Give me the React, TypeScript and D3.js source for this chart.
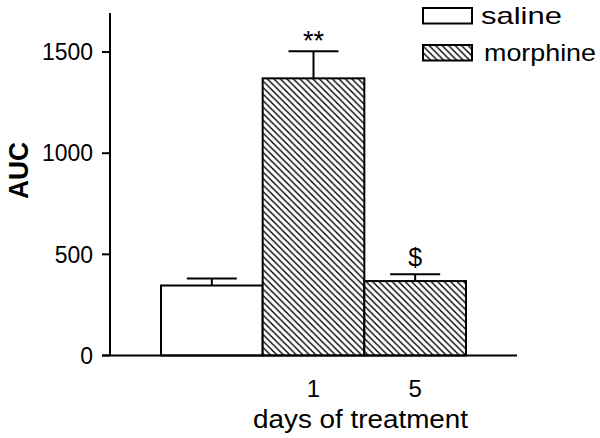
import React from "react";
import * as d3 from "d3";

const groups = ["saline", "morphine-1", "morphine-5"];
const groupSeries = ["saline", "morphine", "morphine"];
const means = [346, 1370, 368];
const errors = [35, 134, 34];
const xTickLabels = ["", "1", "5"];
const annotations = ["", "**", "$"];
const yTicks = [0, 500, 1000, 1500];
const legendLabels = ["saline", "morphine"];
const yLabel = "AUC";
const xLabel = "days of treatment";

const FONT = "'Liberation Sans', Arial, Helvetica, sans-serif";

export default function App() {
  const y = d3.scaleLinear().domain([0, 1693]).range([355.5, 13]);
  const x = d3.scaleBand<string>().domain(groups).range([161, 466]).padding(0);
  const axisX = 110;
  const capHalf = 25;

  const T = (props: any) => {
    const { x: tx, y: ty, children, anchor = "middle", size = 21, weight = "normal", rotate = 0, len } = props;
    return (
      <text
        transform={`translate(${tx},${ty}) rotate(${rotate})`}
        textAnchor={anchor}
        fontFamily={FONT}
        fontSize={size}
        fontWeight={weight}
        fill="#000"
        textLength={len}
        lengthAdjust={len ? "spacingAndGlyphs" : undefined}
      >
        {children}
      </text>
    );
  };

  return (
    <svg width={600} height={438} style={{ position: "absolute", left: 0, top: 0, background: "#fff" }}>
      <defs>
        <pattern id="hatch" patternUnits="userSpaceOnUse" width={6.5} height={6.5}>
          <rect width={6.5} height={6.5} fill="#fff" />
          <path d="M-1,-1 L7.5,7.5 M-1,5.5 L1,7.5 M5.5,-1 L7.5,1" stroke="#000" strokeWidth={1.4} />
        </pattern>
      </defs>
      <rect width={600} height={438} fill="#fff" />

      {groups.map((g, i) => (
        <rect
          key={g}
          x={x(g)!}
          y={y(means[i])}
          width={x.bandwidth()}
          height={y(0) - y(means[i])}
          fill={groupSeries[i] === "saline" ? "#fff" : "url(#hatch)"}
          stroke="#000"
          strokeWidth={2}
        />
      ))}

      {groups.map((g, i) => {
        const cx = x(g)! + x.bandwidth() / 2;
        return (
          <g key={"e" + g} stroke="#000" strokeWidth={2}>
            <line x1={cx} x2={cx} y1={y(means[i])} y2={y(means[i] + errors[i])} />
            <line x1={cx - capHalf} x2={cx + capHalf} y1={y(means[i] + errors[i])} y2={y(means[i] + errors[i])} />
          </g>
        );
      })}

      {groups.map((g, i) =>
        annotations[i] ? (
          <T
            key={"a" + g}
            x={x(g)! + x.bandwidth() / 2}
            y={y(means[i] + errors[i]) + (annotations[i] === "$" ? -8 : -1)}
            size={annotations[i] === "$" ? 25 : 27}
          >
            {annotations[i]}
          </T>
        ) : null
      )}

      <line x1={axisX} x2={axisX} y1={y.range()[1]} y2={y(0)} stroke="#000" strokeWidth={2} />
      {yTicks.map((t) => (
        <g key={t}>
          <line x1={axisX - 8} x2={axisX} y1={y(t)} y2={y(t)} stroke="#000" strokeWidth={2} />
          <T x={93} y={y(t) + 8.3} anchor="end" size={23} len={String(t).length * 12.75}>
            {t}
          </T>
        </g>
      ))}
      <line x1={axisX - 8} x2={517} y1={y(0)} y2={y(0)} stroke="#000" strokeWidth={2} />

      {groups.map((g, i) =>
        xTickLabels[i] ? (
          <T key={"x" + g} x={x(g)! + x.bandwidth() / 2} y={397} size={24}>
            {xTickLabels[i]}
          </T>
        ) : null
      )}
      <T x={360.5} y={428} size={26} len={215}>
        {xLabel}
      </T>
      <T x={28} y={170.5} size={27} weight="bold" rotate={-90} len={57}>
        {yLabel}
      </T>

      {legendLabels.map((l, i) => (
        <g key={l}>
          <rect
            x={423}
            y={8 + i * 37}
            width={49}
            height={15.5}
            fill={l === "saline" ? "#fff" : "url(#hatch)"}
            stroke="#000"
            strokeWidth={2}
          />
          <T x={l === "saline" ? 481 : 484} y={24 + i * 37} anchor="start" size={24} len={l === "saline" ? 81 : 112}>
            {l}
          </T>
        </g>
      ))}
    </svg>
  );
}
